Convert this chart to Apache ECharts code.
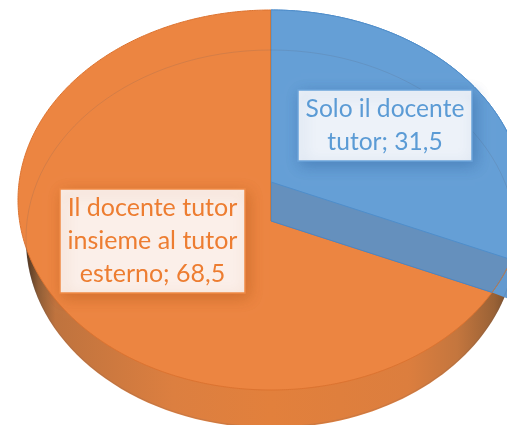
<!DOCTYPE html>
<html><head><meta charset="utf-8">
<style>html,body{margin:0;padding:0;background:#fff}#c{width:507px;height:425px}</style>
<script src="https://cdn.jsdelivr.net/npm/echarts@6/dist/echarts.min.js"></script>
</head><body><div id="c"></div>
<script>
const categories = ['Solo il docente tutor', 'Il docente tutor insieme al tutor esterno'];
const values = [31.5, 68.5];
const labelLines = [['Solo il docente', 'tutor; 31,5'], ['Il docente tutor', 'insieme al tutor', 'esterno; 68,5']];

const chart = echarts.init(document.getElementById('c'), null, {renderer:'canvas'});
const total = values.reduce((a,b)=>a+b,0);
const TOP = {cx:271, cy:200, rx:253, ry:190};
const BOT = {cx:271, cy:240, rx:245, ry:188};
const K = 0.1105, LIFT = 39;
const FONT = 'Lato';
const boxes = [
  {x:298, y:90, w:174, h:71, size:24.6, fill:'#edf2f9', stroke:'#6ba4da', text:'#5b9bd5', shadow:'rgba(40,90,150,0.4)'},
  {x:60, y:189, w:185, h:104, size:25, fill:'#fbefe9', stroke:'#f08a45', text:'#ed7d31', shadow:'rgba(170,80,20,0.4)'}
];
function project(t){
  const X=Math.sin(t), Y=-Math.cos(t), d=1+K*Y;
  return [TOP.cx+TOP.rx*Math.sqrt(1-K*K)*X/d, TOP.cy+TOP.ry*(Y+K)/d];
}
function arc(a,b){
  const pts=[], n=Math.max(2,Math.ceil(Math.abs(b-a)/(Math.PI/360)));
  for(let i=0;i<=n;i++) pts.push(project(a+(b-a)*i/n));
  return pts;
}
function angleOf(v){return v/total*Math.PI*2;}

function renderItem(params, api){
  const i=params.dataIndex, v=api.value(1);
  const before=values.slice(0,i).reduce((a,b)=>a+b,0);
  const a0=angleOf(before), a1=angleOf(before+v);
  const children=[];
  const c=[TOP.cx, TOP.cy+TOP.ry*K];
  if(i===1){
    children.push({type:'ellipse',z2:1,shape:{cx:BOT.cx,cy:BOT.cy,rx:BOT.rx,ry:BOT.ry},
      style:{fill:new echarts.graphic.LinearGradient(0,0,1,0,[
        {offset:0,color:'#4e3420'},{offset:0.025,color:'#8f5d36'},{offset:0.06,color:'#bf733e'},
        {offset:0.3,color:'#dc7f40'},{offset:0.5,color:'#e2803c'},{offset:0.78,color:'#dc7e3e'},
        {offset:0.88,color:'#c4763e'},{offset:0.955,color:'#9a6236'},{offset:1,color:'#6a4526'}])}});
    children.push({type:'polygon',z2:2,shape:{points:[c].concat(arc(a0,a1))},
      style:{fill:'#ec8541',stroke:'#dc7330',lineWidth:1}});
    children.push({type:'line',z2:6,shape:{x1:TOP.cx-0.5,y1:TOP.cy-TOP.ry,x2:TOP.cx-0.5,y2:c[1]},
      style:{stroke:'#c9793f',lineWidth:1}});
    children.push({type:'ellipse',z2:7,shape:{cx:BOT.cx,cy:BOT.cy-1.5,rx:BOT.rx,ry:BOT.ry+0.5},
      style:{fill:null,stroke:'rgba(90,85,100,0.16)',lineWidth:1}});
  } else {
    const tip=project(a1), dx=tip[0]-c[0], dy=tip[1]-c[1], m=dy/dx;
    const w2=[tip].concat(arc(a1,a1-0.35)).concat([[tip[0]+40,tip[1]+16]]);
    children.push({type:'polygon',z2:3,shape:{points:w2},style:{fill:'#639ad0'}});
    children.push({type:'polygon',z2:4,shape:{points:[c].concat(arc(a0,a1))},
      style:{fill:'#6590bd',stroke:'#4a86c5',lineWidth:1}});
    const c2=[c[0],c[1]-LIFT];
    const up=arc(a0,a1).filter(p=>p[1] < c2[1]+m*(p[0]-c2[0]));
    const last=up[up.length-1];
    children.push({type:'polygon',z2:5,shape:{points:[c2].concat(up).concat([[last[0],c2[1]+m*(last[0]-c2[0])]])},
      style:{fill:'#659fd6',stroke:'#4f8ecb',lineWidth:1}});
    children.push({type:'polyline',z2:6,shape:{points:arc(a1,a1-0.35)},style:{fill:null,stroke:'#c9793f',lineWidth:1}});
  }
  const b=boxes[i], lines=labelLines[i];
  children.push({type:'rect',z2:10,shape:{x:b.x,y:b.y,width:b.w,height:b.h},
    style:{fill:b.fill,stroke:b.stroke,lineWidth:1.5,shadowBlur:14,shadowOffsetX:3,shadowOffsetY:4,shadowColor:b.shadow}});
  children.push({type:'text',z2:11,style:{
    text:lines.join('\n'),x:b.x+b.w/2,y:b.y+b.h/2,align:'center',verticalAlign:'middle',
    font:b.size+'px '+FONT,lineHeight:33,fill:b.text}});
  return {type:'group',children};
}
chart.setOption({
  animation:false,
  series:[{type:'custom',coordinateSystem:'none',renderItem,silent:true,
    data:categories.map((n,i)=>({name:n,value:[i,values[i]]}))}]
});
</script></body></html>
